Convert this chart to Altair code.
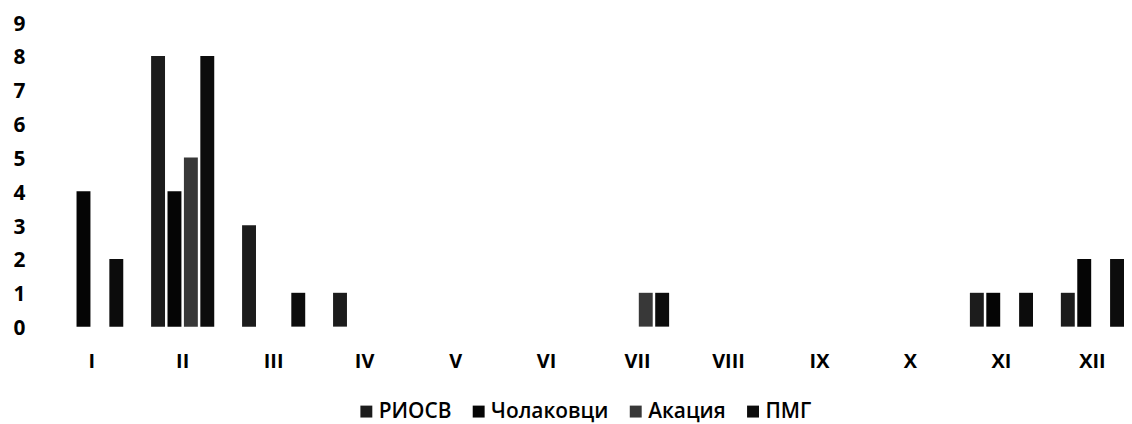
import altair as alt
import pandas as pd

months = ["I", "II", "III", "IV", "V", "VI", "VII", "VIII", "IX", "X", "XI", "XII"]
series = ["РИОСВ", "Чолаковци", "Акация", "ПМГ"]
riosv = [0, 8, 3, 1, 0, 0, 0, 0, 0, 0, 1, 1]
cholakovtsi = [4, 4, 0, 0, 0, 0, 0, 0, 0, 0, 1, 2]
akatsia = [0, 5, 0, 0, 0, 0, 1, 0, 0, 0, 0, 0]
pmg = [2, 8, 1, 0, 0, 0, 1, 0, 0, 0, 1, 2]
colors = ["#1c1c1c", "#050505", "#383838", "#0c0c0c"]

rows = []
for name, vals in zip(series, [riosv, cholakovtsi, akatsia, pmg]):
    for m, v in zip(months, vals):
        rows.append({"month": m, "series": name, "value": v})
df = pd.DataFrame(rows)

FONT = "Open Sans"

chart = alt.Chart(df).mark_bar().encode(
    x=alt.X(
        "month:N", sort=months,
        scale=alt.Scale(paddingInner=0.306, paddingOuter=0.1663, align=1),
        axis=alt.Axis(title=None, labelAngle=0, domain=False, ticks=False, tickSize=0,
                      labelPadding=35, labelBaseline="middle", labelFont=FONT,
                      labelFontSize=20, labelFontWeight="bold", labelColor="#000"),
    ),
    xOffset=alt.XOffset("series:N", sort=series,
                        scale=alt.Scale(paddingInner=0.152, paddingOuter=0)),
    y=alt.Y(
        "value:Q", scale=alt.Scale(domain=[0, 9], nice=False),
        axis=alt.Axis(title=None, values=list(range(10)), domain=False, ticks=False,
                      tickSize=0, grid=False, labelPadding=5, labelOffset=2,
                      labelFont=FONT, labelFontSize=21, labelFontWeight="bold",
                      labelColor="#000"),
    ),
    color=alt.Color(
        "series:N", sort=series,
        scale=alt.Scale(domain=series, range=colors),
        legend=alt.Legend(title=None, orient="none", direction="horizontal",
                          legendX=328, legendY=381, symbolType="square",
                          symbolSize=144, symbolStrokeWidth=0, labelFont=FONT,
                          labelFontSize=21, labelFontWeight=600, labelColor="#000",
                          labelOffset=2, columnPadding=16, padding=0),
    ),
).properties(
    width=1100.7, height=306.3,
    padding={"left": 22, "top": 13, "right": 0, "bottom": 96.5},
    autosize=alt.AutoSizeParams(type="none"),
).configure_view(stroke=None)

chart.save("out.html", embed_options={"renderer": "svg", "actions": False})
